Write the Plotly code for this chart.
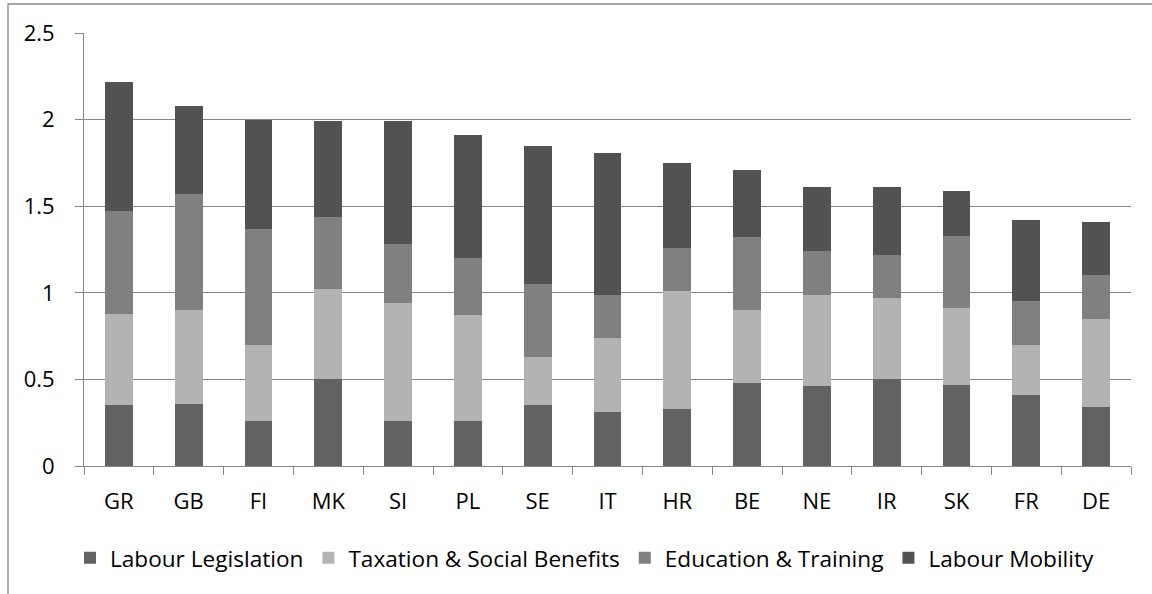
import plotly.graph_objects as go

countries = ["GR", "GB", "FI", "MK", "SI", "PL", "SE", "IT", "HR", "BE", "NE", "IR", "SK", "FR", "DE"]
labour_legislation = [0.35, 0.36, 0.26, 0.50, 0.26, 0.26, 0.35, 0.31, 0.33, 0.48, 0.46, 0.50, 0.47, 0.41, 0.34]
taxation_social = [0.53, 0.54, 0.44, 0.52, 0.68, 0.61, 0.28, 0.43, 0.68, 0.42, 0.53, 0.47, 0.44, 0.29, 0.51]
education_training = [0.59, 0.67, 0.67, 0.42, 0.34, 0.33, 0.42, 0.25, 0.25, 0.42, 0.25, 0.25, 0.42, 0.25, 0.25]
labour_mobility = [0.75, 0.51, 0.63, 0.55, 0.71, 0.71, 0.80, 0.82, 0.49, 0.39, 0.37, 0.39, 0.26, 0.47, 0.31]

series = [
    ("Labour Legislation", labour_legislation, "#626262"),
    ("Taxation & Social Benefits", taxation_social, "#b3b3b3"),
    ("Education & Training", education_training, "#808080"),
    ("Labour Mobility", labour_mobility, "#525252"),
]

fig = go.Figure()
for name, vals, col in series:
    fig.add_trace(go.Bar(x=countries, y=vals, name=name,
                         marker=dict(color=col, line=dict(width=0))))

W, H = 1152, 594
ml, mr, mt, mb = 84, 21, 33, 128
pw, ph = W - ml - mr, H - mt - mb
FONT = "'Open Sans', 'Noto Sans', sans-serif"
FS = 22

fig.update_layout(
    barmode="stack",
    bargap=0.6,
    width=W, height=H,
    margin=dict(l=ml, r=mr, t=mt, b=mb, pad=0),
    paper_bgcolor="white", plot_bgcolor="white",
    font=dict(family=FONT, size=FS, color="black"),
    showlegend=True,
    legend=dict(orientation="h", x=(70 - ml) / pw, xanchor="left",
                y=(466 - 558) / ph, yanchor="middle",
                font=dict(size=22.6), itemwidth=30, traceorder="normal",
                bgcolor="rgba(0,0,0,0)"),
    xaxis=dict(showgrid=False, showline=True, linecolor="#868686", linewidth=1,
               ticks="outside", tickson="boundaries", ticklen=8, tickcolor="#868686",
               tickfont=dict(size=FS), ticklabelstandoff=16, fixedrange=True),
    yaxis=dict(range=[0, 2.5], dtick=0.5, showgrid=True, gridcolor="#868686", gridwidth=1,
               showline=True, linecolor="#868686", linewidth=1, ticks="outside",
               ticklen=8, tickcolor="#868686", tickfont=dict(size=FS),
               zeroline=False, ticklabelstandoff=16, fixedrange=True),
    shapes=[dict(type="rect", xref="paper", yref="paper",
                 x0=(8 - ml) / pw, x1=(W + 20 - ml) / pw,
                 y0=(466 - H - 20) / ph, y1=(466 - 4) / ph,
                 line=dict(color="#868686", width=1.3), fillcolor="rgba(0,0,0,0)",
                 layer="below")],
)

fig.write_html("out.html", config={"displayModeBar": False},
               post_script="document.body.style.margin='0';")
